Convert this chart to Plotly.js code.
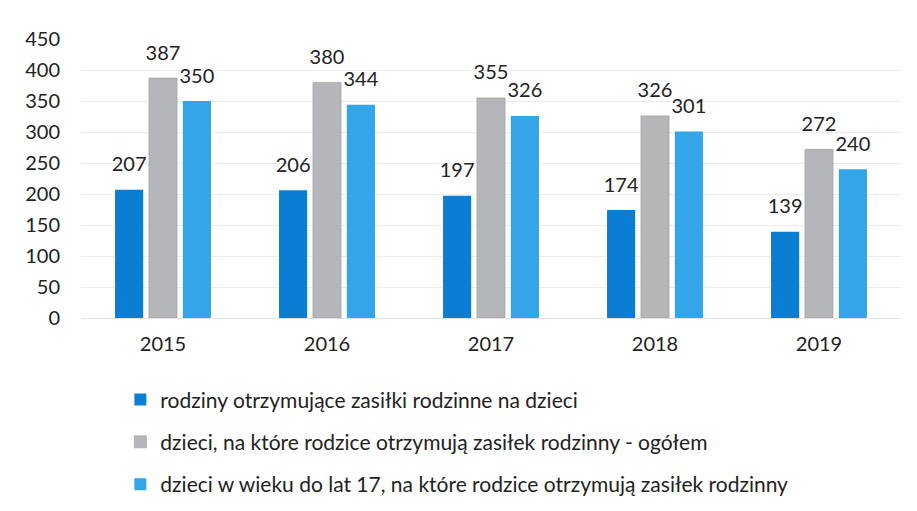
<!DOCTYPE html>
<html><head><meta charset="utf-8">
<script src="https://cdn.plot.ly/plotly-3.0.1.min.js"></script>
<style>html,body{margin:0;padding:0;background:#fff}#chart{width:917px;height:511px}</style>
</head><body><div id="chart"></div>
<script>
const years = ['2015','2016','2017','2018','2019'];
const families = [207, 206, 197, 174, 139];
const childrenTotal = [387, 380, 355, 326, 272];
const childrenUnder17 = [350, 344, 326, 301, 240];
const seriesNames = [
  'rodziny otrzymujące zasiłki rodzinne na dzieci',
  'dzieci, na które rodzice otrzymują zasiłek rodzinny - ogółem',
  'dzieci w wieku do lat 17, na które rodzice otrzymują zasiłek rodzinny'
];
const colors = ['#0b7dd2', '#b4b6b9', '#33a5e8'];
const yTicks = [0,50,100,150,200,250,300,350,400,450];

const fam = 'Lato, "Noto Sans", sans-serif';
const series = [families, childrenTotal, childrenUnder17];
const bars = series.map((vals, i) => ({
  type: 'bar', x: years, y: vals, name: seriesNames[i],
  offsetgroup: 'g' + i, alignmentgroup: 'all',
  marker: {color: colors[i], line: {width: i === 1 ? 0.6 : 0, color: '#999'}},
  legendgroup: 'g' + i, hoverinfo: 'x+y'
}));
const labels = series.map((vals, i) => ({
  type: 'scatter', mode: 'markers+text', x: years, y: vals,
  offsetgroup: 'g' + i, alignmentgroup: 'all',
  text: vals.map(String), textposition: 'top center',
  textfont: {family: fam, size: 20, color: '#222'},
  marker: {size: 20, opacity: 0}, showlegend: false, cliponaxis: false, hoverinfo: 'skip'
}));

const layout = {
  width: 917, height: 511,
  margin: {l: 81, r: 16, t: 39, b: 193, autoexpand: false},
  paper_bgcolor: '#fff', plot_bgcolor: '#fff',
  font: {family: fam, size: 20, color: '#222'},
  barmode: 'group', scattermode: 'group', bargap: 0.38, bargroupgap: 0.17,
  showlegend: true,
  legend: {
    orientation: 'v',
    x: 0.048, y: -0.22, xanchor: 'left', yanchor: 'top',
    font: {family: fam, size: 21, color: '#222'},
    tracegroupgap: 12, itemwidth: 30, traceorder: 'grouped'
  },
  xaxis: {type: 'category', showgrid: false, zeroline: false, showline: false, tickangle: 0,
    ticks: '', ticklabelstandoff: 12, tickfont: {family: fam, size: 20, color: '#222'}},
  yaxis: {range: [0, 450], tickvals: yTicks, ticktext: yTicks.map(String),
    showgrid: true, gridcolor: '#ececec', gridwidth: 1, zeroline: true, zerolinecolor: '#e2e2e2',
    showline: false, ticks: '', ticklabelstandoff: 20,
    tickfont: {family: fam, size: 20, color: '#222'}}
};
Plotly.newPlot('chart', bars.concat(labels), layout, {displayModeBar: false, staticPlot: true});
</script></body></html>
